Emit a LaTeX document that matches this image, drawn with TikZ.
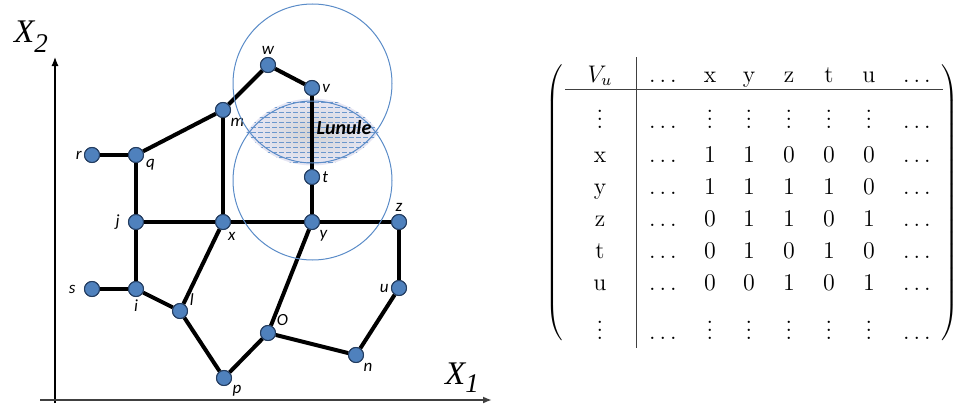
\documentclass[tikz,border=0pt]{standalone}
\usepackage{fontspec}
\usepackage{xcolor}
\usepackage{tikz}
\usetikzlibrary{arrows.meta, positioning, matrix, calc}
\newfontfamily\vlabelfont{Carlito}
\newfontfamily\axisfont{Liberation Serif}
\definecolor{vtxfill}{RGB}{79,129,189}
\definecolor{vtxline}{RGB}{35,60,95}
\definecolor{ringblue}{RGB}{91,140,200}
\definecolor{axisgray}{RGB}{64,64,64}
\tikzset{
  vtx/.style={circle, draw=vtxline, fill=vtxfill, line width=0.5pt,
              minimum size=7.5pt, inner sep=0pt, label distance=2.5pt},
  edge/.style={draw=black, line width=2pt},
  lbl/.style={font=\vlabelfont\fontsize{8.5}{10}\selectfont\itshape, inner sep=1pt},
  ring/.style={draw=ringblue, line width=0.5pt},
  hatch/.style={draw=ringblue!90, line width=0.5pt, dash pattern=on 2.5pt off 1pt},
  axis/.style={-{Latex[length=4.5pt, width=3.5pt]}, line width=0.6pt},
  axislabel/.style={font=\axisfont\fontsize{16.5}{18}\selectfont\itshape, inner sep=0pt},
  cell/.style={anchor=base, inner sep=1pt},
  tabrule/.style={draw=black!75, line width=0.5pt},
  every left delimiter/.style={xshift=-10pt},
  every right delimiter/.style={xshift=3pt},
}

\begin{document}
\begin{tikzpicture}[x=0.5pt, y=-0.5pt]
  \useasboundingbox (0,0) rectangle (959,407);

  % Lunule
  \begin{scope}
    \clip (312.5,83.5) circle[radius=41pt];
    \clip (312.5,180.5) circle[radius=41pt];
    \shade[inner color=gray!35, outer color=blue!7] (230,90) rectangle (395,175);
    \foreach \yy in {97,102,...,167}
      \draw[hatch] (230,\yy) -- (395,\yy);
  \end{scope}

  % Axes
  \coordinate (ybot) at (55,403);
  \coordinate (ytop) at (55,57);
  \coordinate (xleft) at (40,400);
  \coordinate (xright) at (492,400);
  \draw[axis] (ybot) -- (ytop);
  \draw[axis, draw=axisgray, line width=1pt] (xleft) -- (xright);
  \node[axislabel] (x2lab) at (31,37) {X\raisebox{-5pt}{\fontsize{13.5}{15}\selectfont 2}};
  \node[axislabel] (x1lab) at (462,378) {X\raisebox{-4pt}{\fontsize{13.5}{15}\selectfont 1}};

  % Vertices
  \node[vtx, label={[lbl]above:w}] (w) at (268,65) {};
  \node[vtx, label={[lbl]right:v}] (v) at (312,88) {};
  \node[vtx, label={[lbl]-50:m}] (m) at (223,110) {};
  \node[vtx, label={[lbl]left:r}] (r) at (92,155) {};
  \node[vtx, label={[lbl]-17:q}] (q) at (136,155) {};
  \node[vtx, label={[lbl]right:t}] (t) at (312,177) {};
  \node[vtx, label={[lbl, xshift=-3pt]left:j}] (j) at (136,222) {};
  \node[vtx, label={[lbl]-70:x}] (x) at (223,222) {};
  \node[vtx, label={[lbl]-50:y}] (y) at (312,222) {};
  \node[vtx, label={[lbl]above:z}] (z) at (399,222) {};
  \node[vtx, label={[lbl, xshift=-3pt]left:s}] (s) at (92,289) {};
  \node[vtx, label={[lbl]below:i}] (i) at (136,289) {};
  \node[vtx, label={[lbl]20:l}] (l) at (180,311) {};
  \node[vtx, label={[lbl]left:u}] (u) at (399,288) {};
  \node[vtx, label={[lbl]37:O}] (o) at (268,333) {};
  \node[vtx, label={[lbl]-50:n}] (n) at (356,355) {};
  \node[vtx, label={[lbl]-40:p}] (p) at (224,378) {};

  % Edges
  \draw[edge] (r) -- (q);
  \draw[edge] (q) -- (m);
  \draw[edge] (m) -- (w);
  \draw[edge] (w) -- (v);
  \draw[edge] (v) -- (t);
  \draw[edge] (t) -- (y);
  \draw[edge] (m) -- (x);
  \draw[edge] (q) -- (j);
  \draw[edge] (j) -- (x);
  \draw[edge] (x) -- (y);
  \draw[edge] (y) -- (z);
  \draw[edge] (z) -- (u);
  \draw[edge] (u) -- (n);
  \draw[edge] (n) -- (o);
  \draw[edge] (o) -- (y);
  \draw[edge] (o) -- (p);
  \draw[edge] (p) -- (l);
  \draw[edge] (l) -- (x);
  \draw[edge] (l) -- (i);
  \draw[edge] (i) -- (s);
  \draw[edge] (i) -- (j);

  % Rings
  \draw[ring] (312.5,83.5) circle[radius=39.75pt];
  \draw[ring] (312.5,180.5) circle[radius=39.75pt];
  \node[font=\vlabelfont\fontsize{10}{12}\selectfont\bfseries\itshape, inner sep=0pt]
    (lunule) at (344,128) {Lunule};

  % Redraw vertices on top
  \foreach \v in {w,v,m,r,q,t,j,x,y,z,s,i,l,u,o,n,p}
    \node[vtx] at (\v) {};

  % Adjacency table
  \matrix (adj) [matrix of nodes, nodes={cell}, inner sep=0pt,
                 font=\large,
                 row sep={16pt,between origins},
                 column sep={20pt,between origins},
                 left delimiter=(, right delimiter=),
                 matrix anchor=adj-1-1.base] at (600,82) {
    $V_u$ &[11.5pt] $\ldots$ &[3.5pt] x &[-0.5pt] y & z & t & u &[4pt] $\ldots$ \\[7pt]
    \vdots & $\ldots$ & \vdots & \vdots & \vdots & \vdots & \vdots & $\ldots$ \\[1pt]
    x & $\ldots$ & 1 & 1 & 0 & 0 & 0 & $\ldots$ \\
    y & $\ldots$ & 1 & 1 & 1 & 1 & 0 & $\ldots$ \\
    z & $\ldots$ & 0 & 1 & 1 & 0 & 1 & $\ldots$ \\
    t & $\ldots$ & 0 & 1 & 0 & 1 & 0 & $\ldots$ \\
    u & $\ldots$ & 0 & 0 & 1 & 0 & 1 & $\ldots$ \\[8.5pt]
    \vdots & $\ldots$ & \vdots & \vdots & \vdots & \vdots & \vdots & $\ldots$ \\
  };
  \draw[tabrule] (636,57) -- (636,348);
  \draw[tabrule] (565,89) -- (943,89);

\end{tikzpicture}
\end{document}
